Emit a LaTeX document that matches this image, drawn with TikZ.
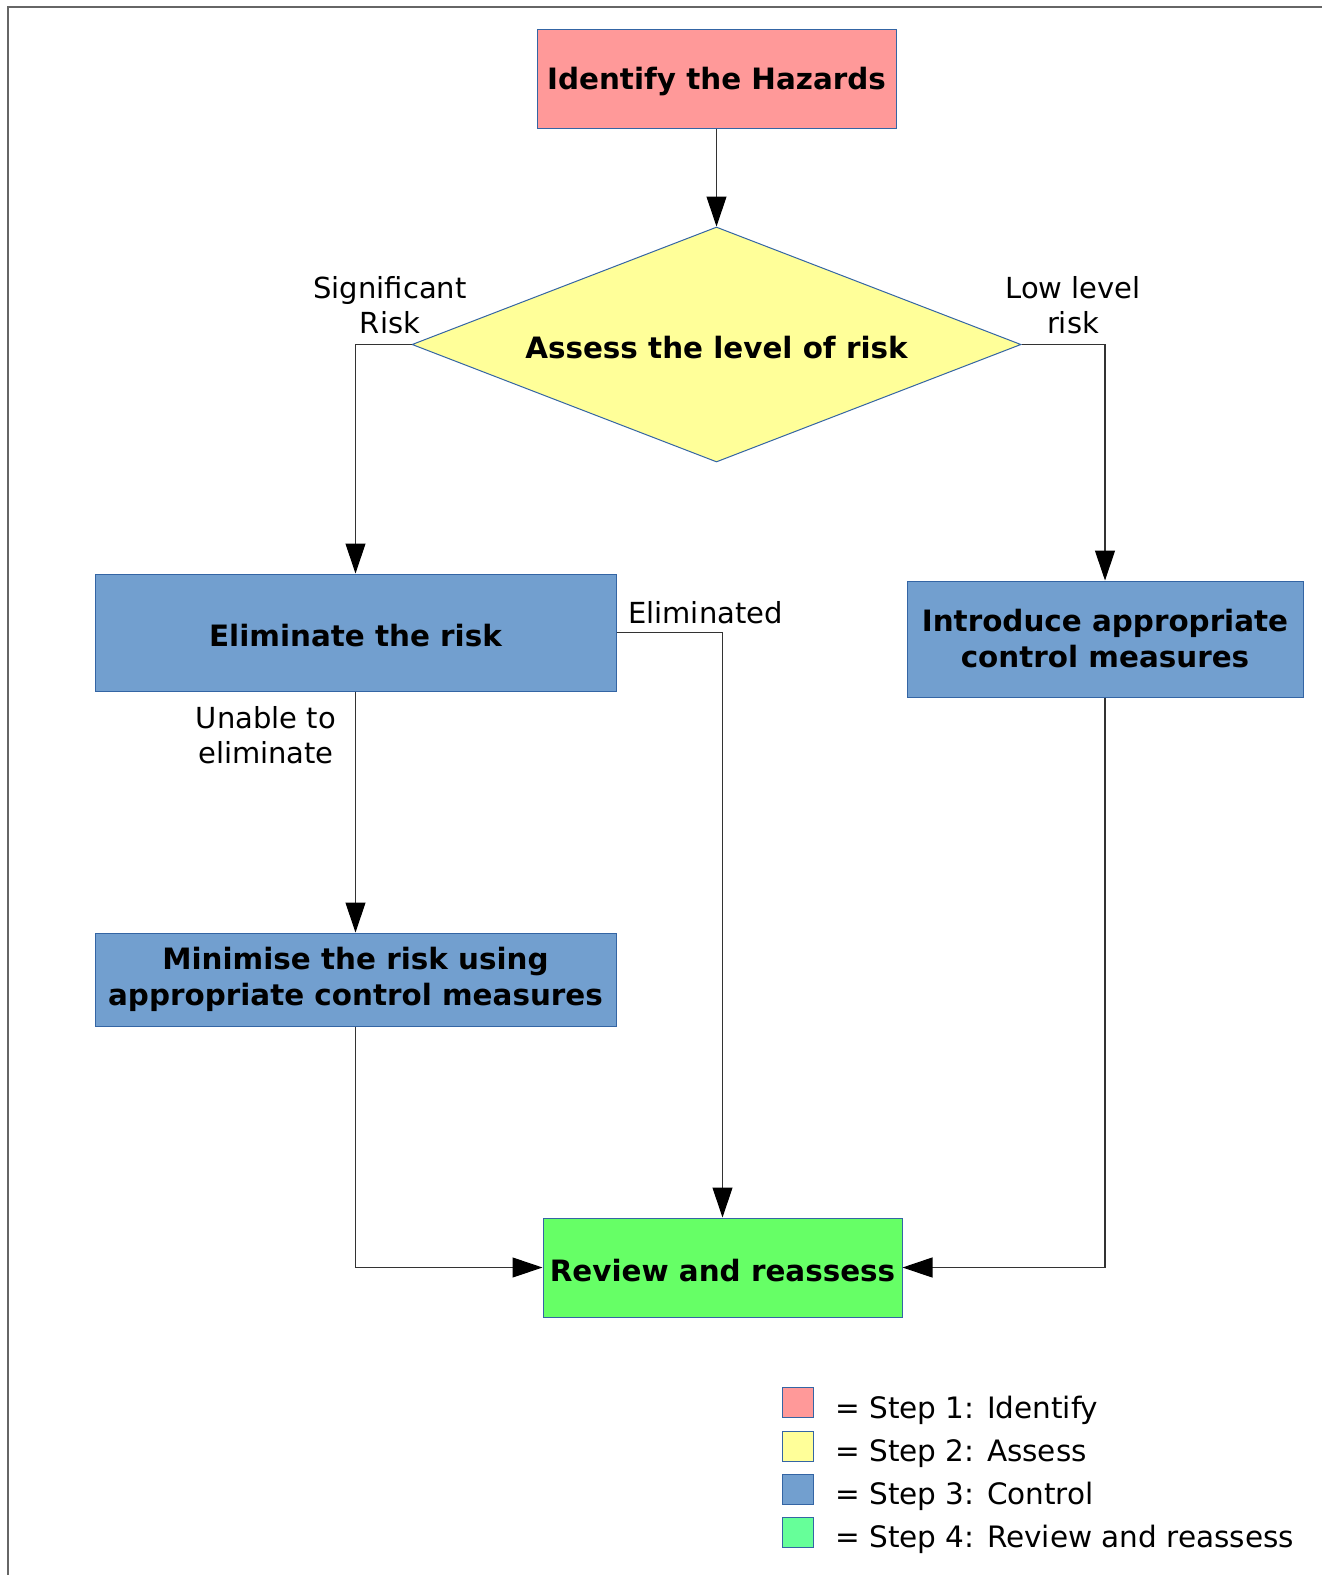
\documentclass[tikz,border=0pt]{standalone}
\usepackage{fontspec}
\setmainfont{DejaVu Sans}
\usetikzlibrary{shapes.geometric,arrows.meta}
\definecolor{pinkc}{HTML}{FF9999}
\definecolor{yellowc}{HTML}{FFFF99}
\definecolor{bluec}{HTML}{729FCF}
\definecolor{greenc}{HTML}{66FF66}
\definecolor{legreen}{HTML}{66FF99}
\definecolor{bordc}{HTML}{3465A4}
\definecolor{framec}{HTML}{666666}
\newcommand{\lowertxt}[1]{\raisebox{-3pt}[\height][\depth]{#1}}
\begin{document}
\begin{tikzpicture}[x=1pt,y=-1pt,
  box/.style={draw=bordc, line width=1pt, inner sep=0pt, align=center,
    font=\bfseries\fontsize{29.4}{36}\selectfont},
  lbl/.style={inner sep=0pt, align=center, font=\fontsize{29}{35}\selectfont},
  conn/.style={draw=black!80, line width=1.1pt, -{Triangle[length=30pt,width=20pt,color=black]}},
  legsq/.style={draw=bordc, line width=1pt, minimum width=31pt, minimum height=30pt, inner sep=0pt},
  legtxt/.style={inner sep=0pt, anchor=base west, font=\fontsize{29.5}{35}\selectfont}]
\useasboundingbox (0,0) rectangle (1322,1575);
\fill[white] (0,0) rectangle (1322,1575);
\draw[framec, line width=2pt] (8,1580) -- (8,7) -- (1330,7);

\node[box, fill=pinkc, minimum width=359pt, minimum height=99pt] (ident) at (716.5,78.5) {\lowertxt{Identify the Hazards}};
\node[diamond, draw=bordc, line width=1pt, fill=yellowc, aspect=2.6, inner sep=0pt,
  minimum width=609pt, minimum height=235pt,
  font=\bfseries\fontsize{29.4}{36}\selectfont] (assess) at (716.5,344.5) {\lowertxt{Assess the level of risk}};
\node[box, fill=bluec, minimum width=521pt, minimum height=117pt] (elim) at (355.5,632.5) {\lowertxt{Eliminate the risk}};
\node[box, fill=bluec, minimum width=396pt, minimum height=116pt] (intro) at (1105,639) {Introduce appropriate\\control measures};
\node[box, fill=bluec, minimum width=521pt, minimum height=93pt] (minim) at (355.5,979.5) {Minimise the risk using\\appropriate control measures};
\node[box, fill=greenc, minimum width=359pt, minimum height=99pt] (review) at (722.5,1267.5) {\lowertxt{Review and reassess}};

\draw[conn] (ident) -- (assess.north);
\draw[conn] (assess.west) -| (elim.north);
\draw[conn] (assess.east) -| (intro.north);
\draw[conn] (elim.south) -- (minim.north);
\draw[conn] (elim.east) -| (review.north);
\draw[conn] (minim.south) |- (review.west);
\draw[conn] (intro.south) |- (review.east);

\node[lbl] (lsig) at (390,305) {Significant\\Risk};
\node[lbl] (llow) at (1073,305) {Low level\\risk};
\node[lbl] (lelim) at (705.5,613) {Eliminated};
\node[lbl] (lunable) at (266,735) {Unable to\\eliminate};

\node[legsq, fill=pinkc] (sq1) at (798,1402) {};
\node[legsq, fill=yellowc] (sq2) at (798,1446) {};
\node[legsq, fill=bluec] (sq3) at (798,1489) {};
\node[legsq, fill=legreen] (sq4) at (798,1532) {};
\node[legtxt] (t1) at (835,1418) {= Step 1: Identify};
\node[legtxt] (t2) at (835,1461) {= Step 2: Assess};
\node[legtxt] (t3) at (835,1504) {= Step 3: Control};
\node[legtxt] (t4) at (835,1547) {= Step 4: Review and reassess};
\end{tikzpicture}
\end{document}
